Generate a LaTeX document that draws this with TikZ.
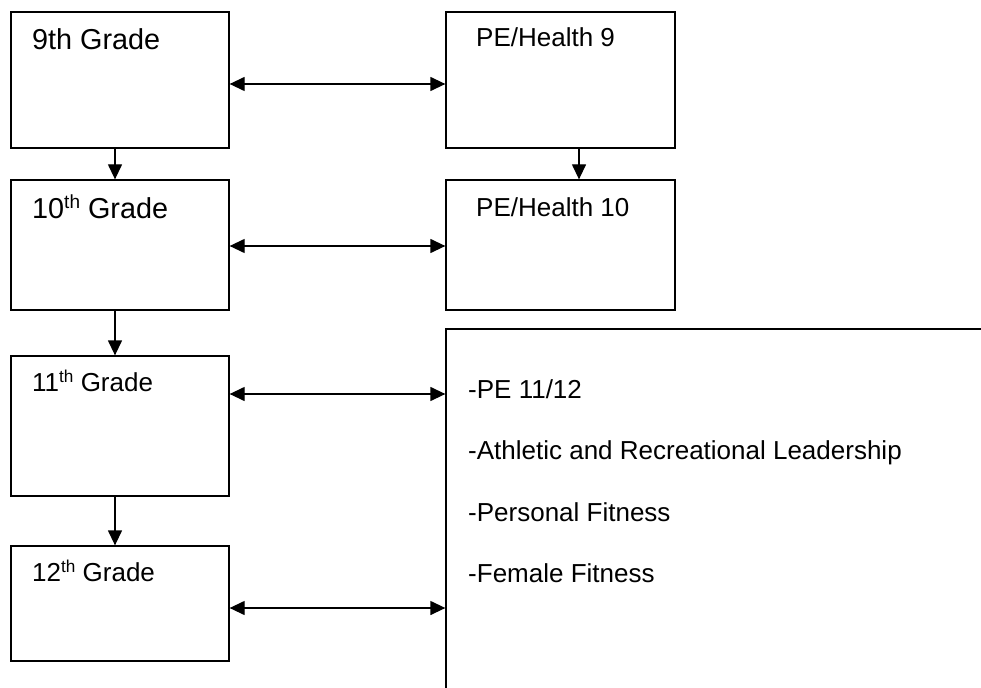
\documentclass[tikz,border=0pt]{standalone}
\usepackage{fontspec}
\setmainfont{Liberation Sans}
\usetikzlibrary{arrows.meta}
\newcommand\mysup[2]{\raisebox{#2pt}{\fontsize{#1}{#1}\selectfont th}}
\begin{document}
\begin{tikzpicture}[x=1pt,y=-1pt,
  box/.style={draw=black,line width=1.3pt,rectangle,inner sep=0pt},
  lbl/.style={inner sep=0pt,anchor=base west},
  big/.style={font=\fontsize{28.8}{34}\selectfont},
  mid/.style={font=\fontsize{26}{30}\selectfont},
  pe/.style={font=\fontsize{26}{30}\selectfont},
  conn/.style={line width=1.3pt,-{Triangle[length=15pt,width=14pt]}},
  dconn/.style={line width=1.3pt,{Triangle[length=15pt,width=14pt]}-{Triangle[length=15pt,width=14pt]}}]
\useasboundingbox (0,0) rectangle (981,687);
\clip (0,0) rectangle (981,687);
% left column boxes
\node[box,minimum width=218pt,minimum height=136pt] (g9) at (120,80) {};
\node[box,minimum width=218pt,minimum height=130pt] (g10) at (120,245) {};
\node[box,minimum width=218pt,minimum height=140pt] (g11) at (120,426) {};
\node[box,minimum width=218pt,minimum height=115pt] (g12) at (120,603.5) {};
% right column boxes
\node[box,minimum width=229pt,minimum height=136pt] (p9) at (560.5,80) {};
\node[box,minimum width=229pt,minimum height=130pt] (p10) at (560.5,245) {};
\node[box,minimum width=654pt,minimum height=471pt] (pbig) at (773,564.5) {};
% texts
\node[lbl,big] (t9) at (32,50) {9th Grade};
\node[lbl,big] (t10) at (32,218) {10\mysup{19}{9.5} Grade};
\node[lbl,mid] (t11) at (32,391) {11\mysup{17.2}{8.6} Grade};
\node[lbl,mid] (t12) at (32,581) {12\mysup{17.2}{8.6} Grade};
\node[lbl,pe] (tp9) at (476,47) {PE/Health 9};
\node[lbl,pe] (tp10) at (476,216) {PE/Health 10};
\node[lbl,mid] (l1) at (468,398) {-PE 11/12};
\node[lbl,mid] (l2) at (468,459) {-Athletic and Recreational Leadership};
\node[lbl,mid] (l3) at (468,521) {-Personal Fitness};
\node[lbl,mid] (l4) at (468,582) {-Female Fitness};
% vertical arrows
\coordinate (v9) at ([xshift=-5pt]g9.south);
\coordinate (v10) at ([xshift=-5pt]g10.south);
\coordinate (v11) at ([xshift=-5pt]g11.south);
\coordinate (vp9) at ([xshift=18.5pt]p9.south);
\draw[conn] (v9) -- (v9 |- g10.north);
\draw[conn] (v10) -- (v10 |- g11.north);
\draw[conn] (v11) -- (v11 |- g12.north);
\draw[conn] (vp9) -- (vp9 |- p10.north);
% horizontal double arrows
\coordinate (h9) at ([yshift=-4pt]g9.east);
\coordinate (h10) at ([yshift=-1pt]g10.east);
\coordinate (h11) at ([yshift=32pt]g11.east);
\coordinate (h12) at ([yshift=-4.5pt]g12.east);
\draw[dconn] (h9) -- (h9 -| p9.west);
\draw[dconn] (h10) -- (h10 -| p10.west);
\draw[dconn] (h11) -- (h11 -| pbig.west);
\draw[dconn] (h12) -- (h12 -| pbig.west);
\end{tikzpicture}
\end{document}
